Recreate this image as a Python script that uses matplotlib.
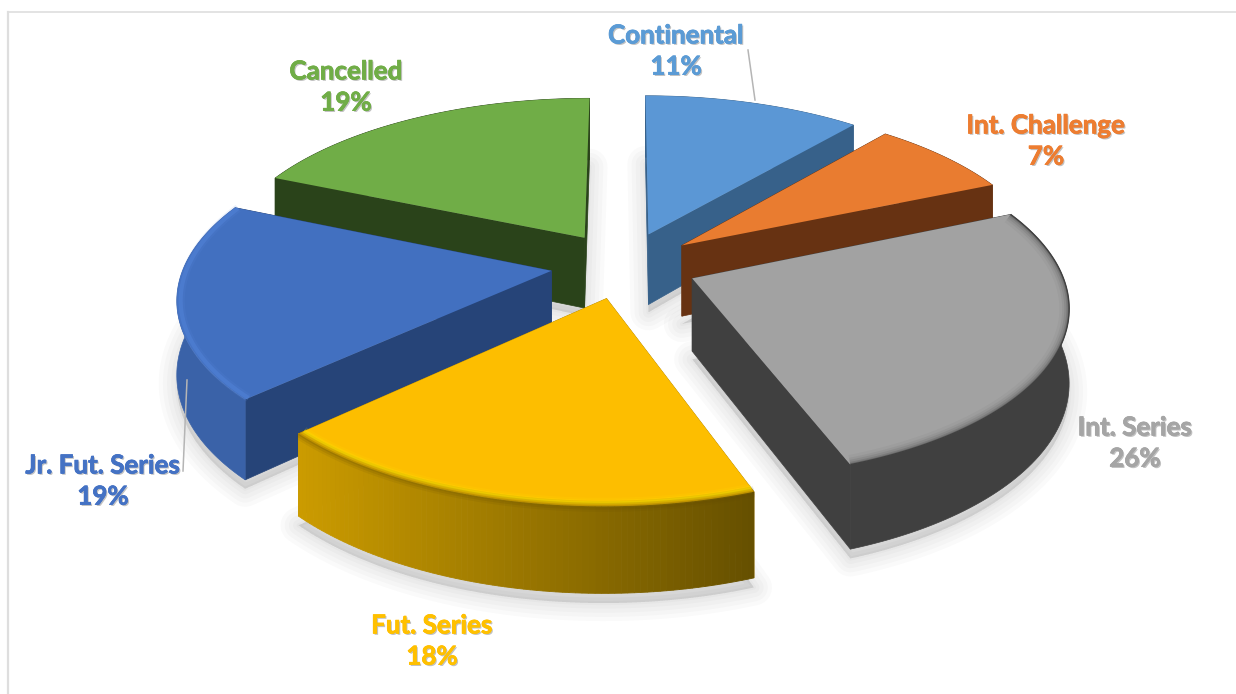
import numpy as np
import matplotlib
matplotlib.use('Agg')
import matplotlib.pyplot as plt
import matplotlib.patheffects as pe
from matplotlib.colors import to_rgb
from matplotlib.patches import Polygon

plt.rcParams['font.family'] = ['Lato', 'DejaVu Sans']

# data
names = ['Continental', 'Int. Challenge', 'Int. Series', 'Fut. Series', 'Jr. Fut. Series', 'Cancelled']
values = [11.1, 7.4, 25.9, 18.5, 18.5, 18.5]
pct_labels = ['11%', '7%', '26%', '18%', '19%', '19%']
top_colors = ['#5B97D5', '#E97C30', '#A2A2A2', '#FDBE00', '#4270C0', '#70AD47']
side_colors = ['#37618A', '#673212', '#404040', '#B88A00', '#264478', '#2A431A']
outer_colors = ['#37618A', '#673212', '#404040', '#B88A00', '#3A62A8', '#2A431A']
text_colors = ['#5B9BD5', '#ED7D31', '#A5A5A5', '#FFC000', '#4472C4', '#70AD47']
label_x = [676, 1046, 1135, 432, 103, 346]
label_y = [51, 141, 443, 641, 481, 87]
leader_x = [[748, 755], [187, 183]]
leader_y = [[50, 100], [380, 471]]

# view settings, fitted by eye to the picture
cx, cy = 624, 265
Ax, Ay = 367, 167
persp = 0.145
explode = 0.2
height = 72


def project(X, Y, drop=0.0):
    s = 1 / (1 + persp * Y)
    return cx + Ax * X * s, cy - Ay * Y * s + drop * s


def slice_xy(a0, a1, mid, r=1.0, n=80):
    t = np.linspace(a0, a1, n)
    ox, oy = explode * np.sin(mid), explode * np.cos(mid)
    return r * np.sin(t) + ox, r * np.cos(t) + oy, ox, oy


fig = plt.figure(figsize=(12.36, 6.94), dpi=100)
ax = fig.add_axes([0, 0, 1, 1])
ax.set_xlim(0, 1236)
ax.set_ylim(694, 0)
ax.axis('off')

# frame of the screenshot
ax.plot([8, 1236], [12, 12], color='#DEDEDE', lw=1.2)
ax.plot([8, 8], [12, 694], color='#DEDEDE', lw=1.6)

fracs = np.array(values) / sum(values)
edges = 2 * np.pi * np.concatenate([[0], np.cumsum(fracs)])
mids = (edges[:-1] + edges[1:]) / 2

# soft shadows under the slices
for i in range(len(values)):
    X, Y, ox, oy = slice_xy(edges[i], edges[i + 1], mids[i])
    px, py = project(np.r_[ox, X], np.r_[oy, Y], height + 8)
    for lw in [26, 20, 14, 8, 3]:
        ax.add_patch(Polygon(np.c_[px, py], closed=True, fc='#000000', ec='#000000', lw=lw,
                             alpha=0.018, joinstyle='round', zorder=1))

# back slices first
order = np.argsort(-np.cos(mids))
z = 2
for i in order:
    X, Y, ox, oy = slice_xy(edges[i], edges[i + 1], mids[i])
    tx, ty = project(ox, oy)
    tbx, tby = project(ox, oy, height)
    px, py = project(X, Y)
    bx, by = project(X, Y, height)

    # straight walls
    for k in [0, -1]:
        wall = [[tx, ty], [px[k], py[k]], [bx[k], by[k]], [tbx, tby]]
        ax.add_patch(Polygon(wall, closed=True, fc=side_colors[i], ec=side_colors[i], lw=0.5, zorder=z))
    z += 1

    # round wall, the gold one goes darker to the right
    wall = np.r_[np.c_[px, py], np.c_[bx, by][::-1]]
    if names[i] == 'Fut. Series':
        c0, c1 = np.array(to_rgb('#CC9C00')), np.array(to_rgb('#665000'))
        for k in range(len(px) - 1):
            f = (px[k] - px.min()) / (px.max() - px.min())
            col = c0 * (1 - f) + c1 * f
            quad = [[px[k], py[k]], [px[k + 1], py[k + 1]], [bx[k + 1], by[k + 1]], [bx[k], by[k]]]
            ax.add_patch(Polygon(quad, closed=True, fc=col, ec=col, lw=0.6, zorder=z))
    else:
        ax.add_patch(Polygon(wall, closed=True, fc=outer_colors[i], ec=outer_colors[i], lw=0.5, zorder=z))
    z += 1

    # top face
    face = np.r_[[[tx, ty]], np.c_[px, py]]
    top = ax.add_patch(Polygon(face, closed=True, fc=top_colors[i], ec='none', zorder=z))
    z += 1

    # bevel along the rim
    if names[i] == 'Int. Series':
        for lw, a in [(14, 0.05), (10, 0.08), (7, 0.12), (4, 0.2), (2, 0.3)]:
            ln, = ax.plot(px, py, color='#404040', lw=lw, alpha=a, zorder=z, solid_capstyle='butt')
            ln.set_clip_path(top)
        ax.plot(px, py, color='#404040', lw=1, zorder=z, solid_capstyle='butt')
    elif names[i] == 'Fut. Series':
        hx, hy = project(*slice_xy(edges[i], edges[i + 1], mids[i], r=0.985)[:2])
        for lw, a in [(7, 0.12), (4, 0.25), (2, 0.5)]:
            ax.plot(hx, hy, color='#FFE400', lw=lw, alpha=a, zorder=z, solid_capstyle='butt')
        for lw, a in [(8, 0.1), (5, 0.15), (2, 0.2)]:
            ax.plot(px, py, color='#604800', lw=lw, alpha=a, zorder=z, solid_capstyle='butt')
    elif names[i] == 'Jr. Fut. Series':
        hx, hy = project(*slice_xy(edges[i], edges[i + 1], mids[i], r=0.99)[:2])
        for lw, a in [(6, 0.12), (3, 0.3)]:
            ax.plot(hx, hy, color='#5C8EE6', lw=lw, alpha=a, zorder=z, solid_capstyle='butt')
    z += 1

# leader lines
for xs, ys in zip(leader_x, leader_y):
    ax.plot(xs, ys, color='#B5B5B5', lw=1.1, zorder=z)

# labels
for name, pct, col, x, y in zip(names, pct_labels, text_colors, label_x, label_y):
    effects = [pe.withSimplePatchShadow(offset=(1, -1), shadow_rgbFace='#777777', alpha=0.45),
               pe.withStroke(linewidth=0.5, foreground=col)]
    ax.text(x, y, f'{name}\n{pct}', color=col, ha='center', va='center', fontsize=18.7,
            fontweight='bold', linespacing=1.36, zorder=z + 1, path_effects=effects)

fig.savefig('out.png', dpi=100)
